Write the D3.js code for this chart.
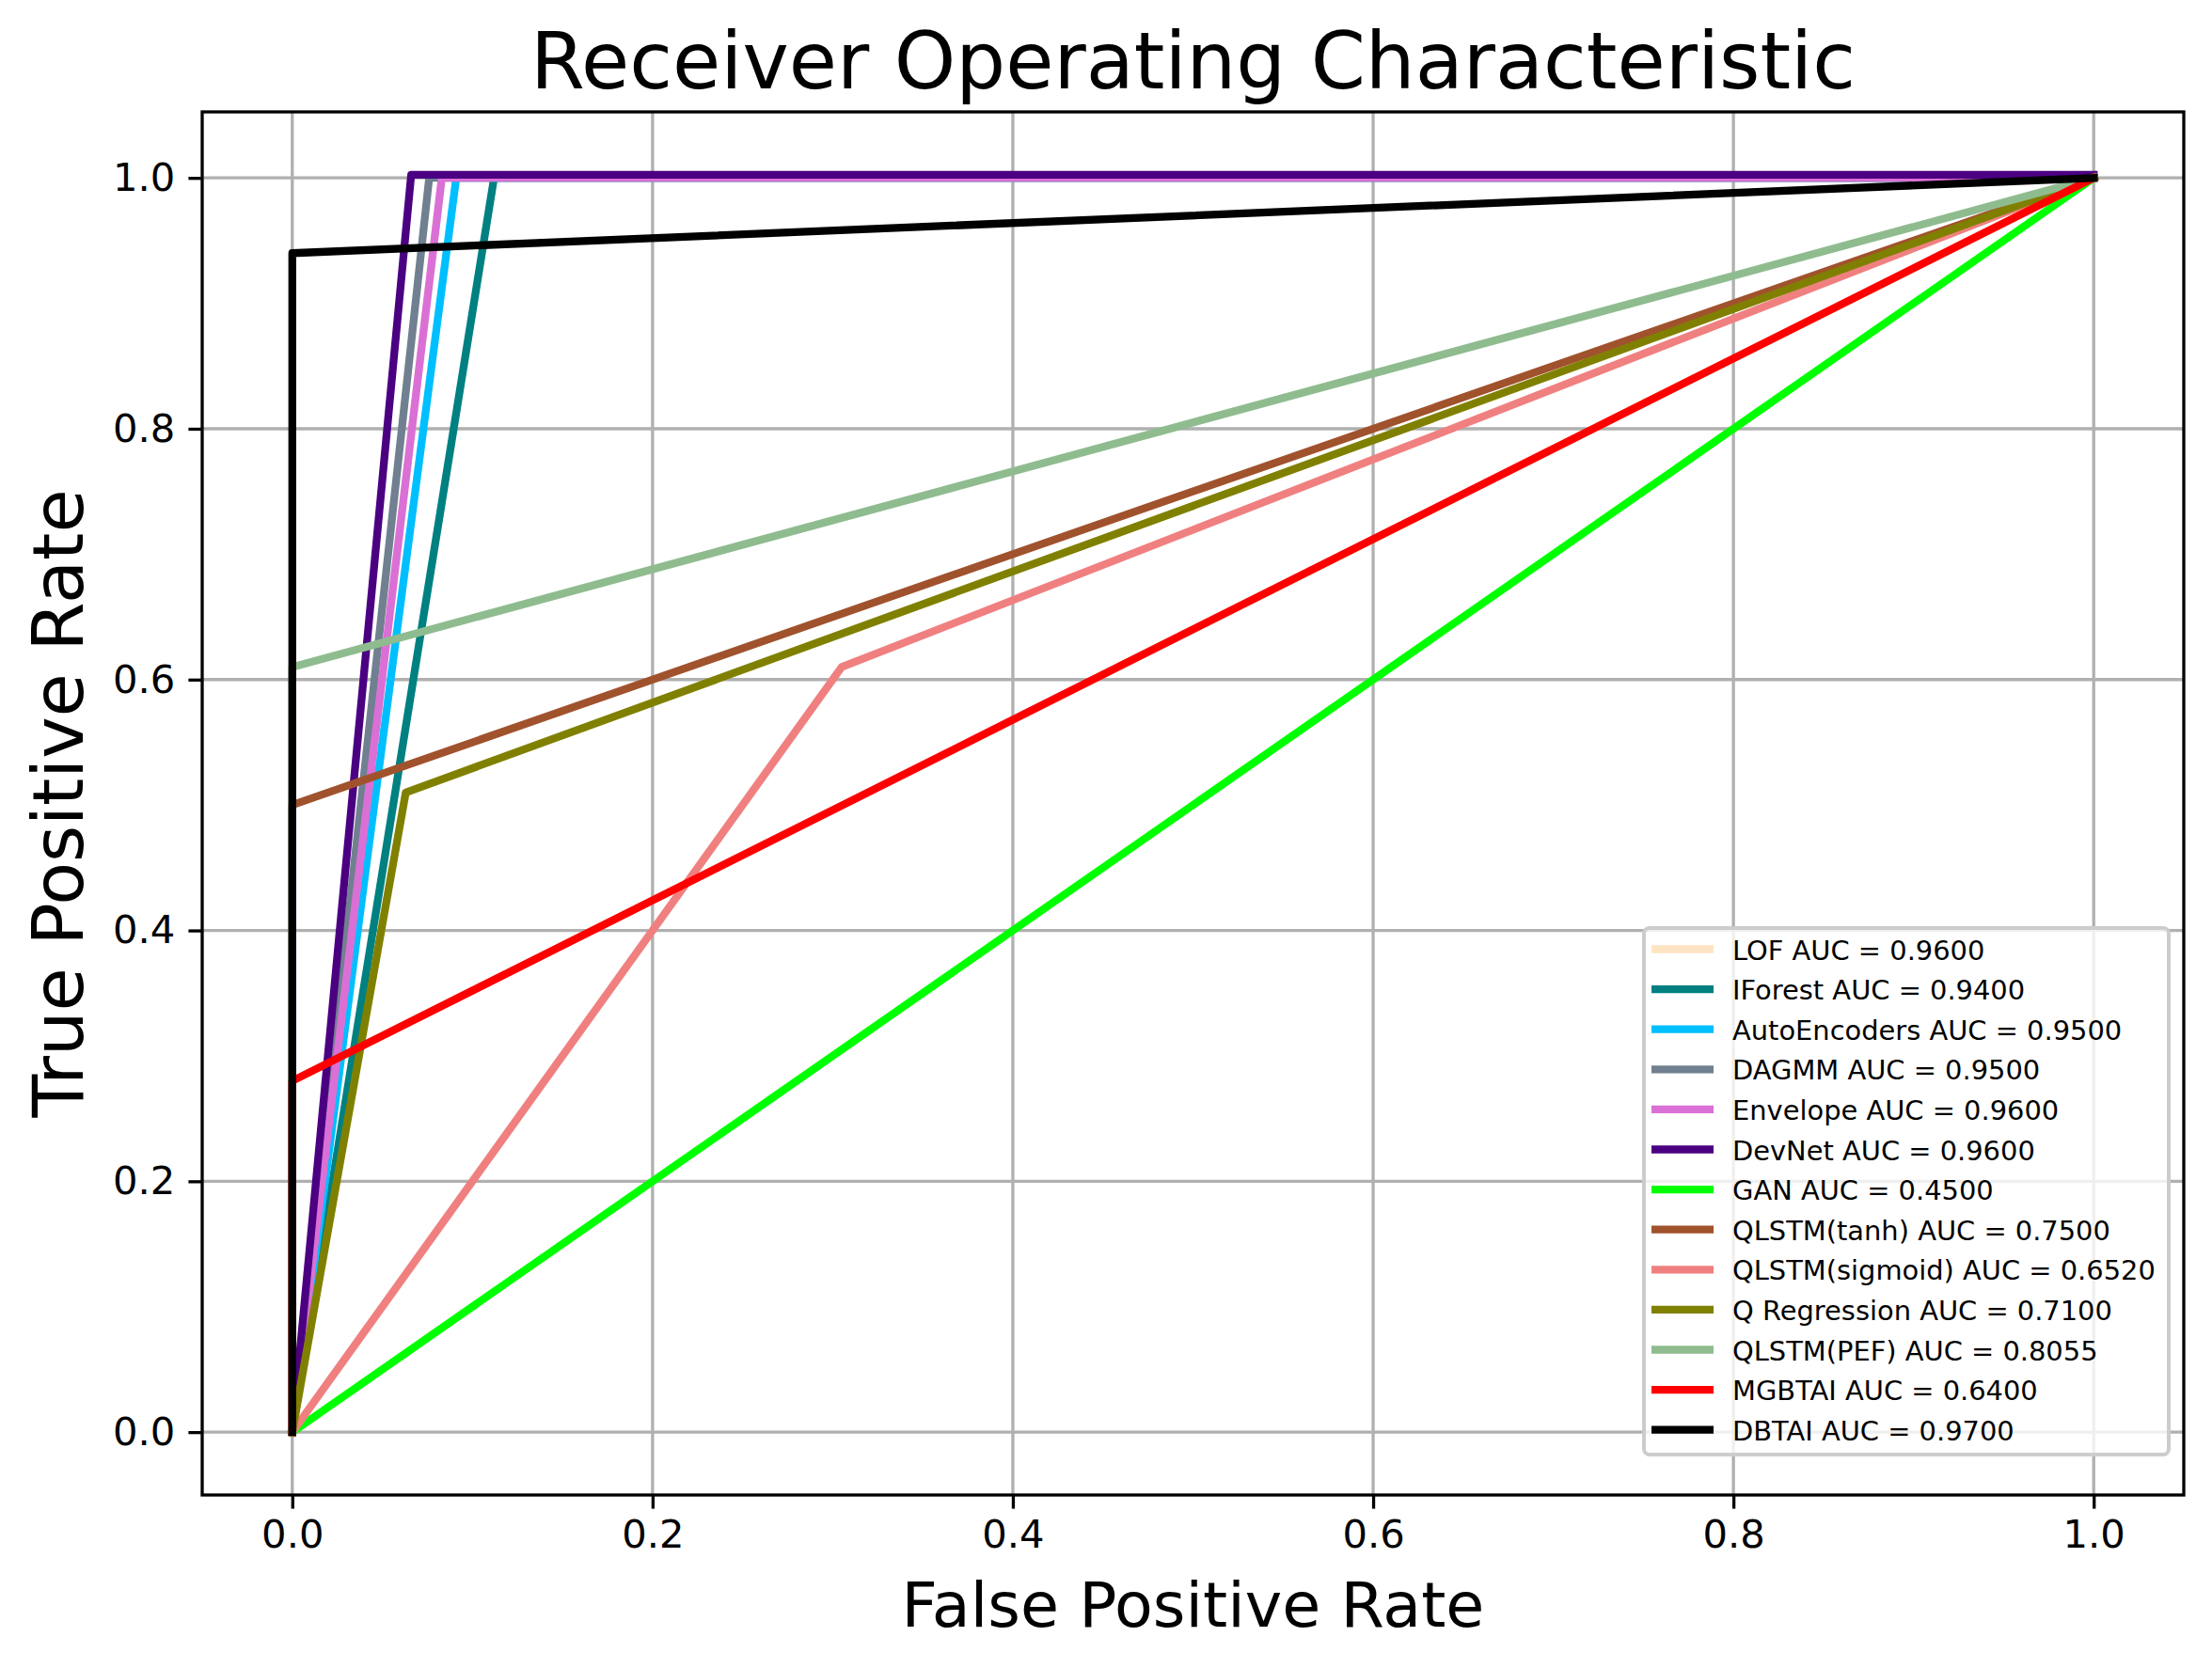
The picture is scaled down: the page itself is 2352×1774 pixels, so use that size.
<!DOCTYPE html>
<html>
<head>
<meta charset="utf-8">
<script src="https://cdn.jsdelivr.net/npm/d3@7"></script>
<style>
  body { margin: 0; background: #fff; }
  text { font-family: "DejaVu Sans", sans-serif; fill: #000; }
</style>
</head>
<body>
<div id="chart"></div>
<script>
// ROC curves
const models = ['LOF', 'IForest', 'AutoEncoders', 'DAGMM', 'Envelope', 'DevNet', 'GAN',
  'QLSTM(tanh)', 'QLSTM(sigmoid)', 'Q Regression', 'QLSTM(PEF)', 'MGBTAI', 'DBTAI'];
const aucs = ['0.9600', '0.9400', '0.9500', '0.9500', '0.9600', '0.9600', '0.4500',
  '0.7500', '0.6520', '0.7100', '0.8055', '0.6400', '0.9700'];
const fprs = [
  [0, 0.083, 1],
  [0, 0.112, 1],
  [0, 0.091, 1],
  [0, 0.076, 1],
  [0, 0.083, 1],
  [0, 0.066, 1],
  [0, 1],
  [0, 0, 1],
  [0, 0.305, 1],
  [0, 0.063, 1],
  [0, 0, 1],
  [0, 0, 1],
  [0, 0, 1]
];
const tprs = [
  [0, 1, 1],
  [0, 1, 1],
  [0, 1, 1],
  [0, 1, 1],
  [0, 1, 1],
  [0, 1.0025, 1.0025],
  [0, 1],
  [0, 0.50, 1],
  [0, 0.61, 1],
  [0, 0.51, 1],
  [0, 0.61, 1],
  [0, 0.28, 1],
  [0, 0.94, 1]
];
const colors = ['bisque', 'teal', 'deepskyblue', 'slategray', 'orchid', 'indigo', 'lime',
  'sienna', 'lightcoral', 'olive', 'darkseagreen', 'red', 'black'];
const ticks = [0, 0.2, 0.4, 0.6, 0.8, 1.0];

const width = 2352, height = 1774;
const margin = ({top: 119, right: 30, bottom: 184, left: 215});
const lw = 8.3, gridColor = '#b0b0b0';

let series = models.map((m, i) => ({
  name: m, auc: aucs[i], color: colors[i],
  pts: fprs[i].map((f, j) => [f, tprs[i][j]])
}));

// matplotlib style 5% margins
let xExt = d3.extent(fprs.flat()), yExt = d3.extent(tprs.flat());
let xPad = (xExt[1] - xExt[0]) * 0.05, yPad = (yExt[1] - yExt[0]) * 0.05;

let x = d3.scaleLinear()
  .domain([xExt[0] - xPad, xExt[1] + xPad])
  .range([margin.left, width - margin.right]);
let y = d3.scaleLinear()
  .domain([yExt[0] - yPad, yExt[1] + yPad])
  .range([height - margin.bottom, margin.top]);

let svg = d3.select('#chart').append('svg')
  .attr('width', width)
  .attr('height', height);

svg.append('rect').attr('width', width).attr('height', height).attr('fill', '#fff');

// grid
let grid = svg.append('g').attr('class', 'grid');
grid.selectAll('line.gx').data(ticks).enter().append('line')
  .attr('x1', d => x(d)).attr('x2', d => x(d))
  .attr('y1', margin.top).attr('y2', height - margin.bottom)
  .attr('stroke', gridColor).attr('stroke-width', 3.3);
grid.selectAll('line.gy').data(ticks).enter().append('line')
  .attr('y1', d => y(d)).attr('y2', d => y(d))
  .attr('x1', margin.left).attr('x2', width - margin.right)
  .attr('stroke', gridColor).attr('stroke-width', 3.3);

// curves
let line = d3.line()
  .x(d => x(d[0]))
  .y(d => y(d[1]));

svg.append('defs').append('clipPath').attr('id', 'clip')
  .append('rect')
  .attr('x', margin.left).attr('y', margin.top)
  .attr('width', width - margin.left - margin.right)
  .attr('height', height - margin.top - margin.bottom);

svg.append('g').attr('clip-path', 'url(#clip)')
  .selectAll('path').data(series).enter().append('path')
  .attr('d', d => line(d.pts))
  .attr('fill', 'none')
  .attr('stroke', d => d.color)
  .attr('stroke-width', lw)
  .attr('stroke-linecap', 'square')
  .attr('stroke-linejoin', 'round');

// axes
let xAxis = d3.axisBottom(x).tickValues(ticks).tickFormat(d3.format('.1f'))
  .tickSize(14.6).tickPadding(12).tickSizeOuter(0);
let yAxis = d3.axisLeft(y).tickValues(ticks).tickFormat(d3.format('.1f'))
  .tickSize(14.6).tickPadding(14).tickSizeOuter(0);

let gx = svg.append('g')
  .attr('transform', `translate(0,${height - margin.bottom})`)
  .call(xAxis);
let gy = svg.append('g')
  .attr('transform', `translate(${margin.left},0)`)
  .call(yAxis);

[gx, gy].forEach(g => {
  g.select('.domain').remove();
  g.selectAll('.tick line').attr('stroke', '#000').attr('stroke-width', 3.3);
  g.selectAll('.tick text').style('font-size', '41.7px').attr('fill', '#000');
});

// frame
svg.append('rect')
  .attr('x', margin.left).attr('y', margin.top)
  .attr('width', width - margin.left - margin.right)
  .attr('height', height - margin.top - margin.bottom)
  .attr('fill', 'none').attr('stroke', '#000').attr('stroke-width', 3.3);

// labels
let cx = (margin.left + width - margin.right) / 2;
let cy = (margin.top + height - margin.bottom) / 2;

svg.append('text')
  .attr('text-anchor', 'middle')
  .attr('x', cx).attr('y', 94)
  .style('font-size', '83.3px')
  .text('Receiver Operating Characteristic');

svg.append('text')
  .attr('text-anchor', 'middle')
  .attr('x', cx).attr('y', 1730)
  .style('font-size', '66.7px')
  .text('False Positive Rate');

svg.append('text')
  .attr('text-anchor', 'middle')
  .attr('transform', `translate(88,${cy})rotate(-90)`)
  .style('font-size', '75px')
  .text('True Positive Rate');

// legend
let legend = svg.append('g').attr('transform', 'translate(1748,987)');
legend.append('rect')
  .attr('width', 558).attr('height', 560)
  .attr('rx', 6).attr('ry', 6)
  .attr('fill', '#fff').attr('fill-opacity', 0.8)
  .attr('stroke', '#cccccc').attr('stroke-width', 4);

let rows = legend.selectAll('g.row').data(series).enter().append('g')
  .attr('class', 'row')
  .attr('transform', (d, i) => `translate(0,${22.5 + i * 42.6})`);
rows.append('line')
  .attr('x1', 8).attr('x2', 74)
  .attr('stroke', d => d.color).attr('stroke-width', lw);
rows.append('text')
  .attr('x', 94).attr('y', 11)
  .style('font-size', '28.9px')
  .text(d => `${d.name} AUC = ${d.auc}`);
</script>
</body>
</html>
